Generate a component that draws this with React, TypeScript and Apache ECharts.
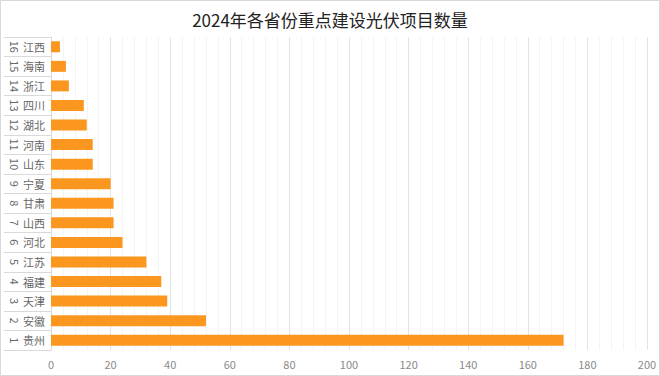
import React, { useEffect, useRef } from "react";
import * as echarts from "echarts";

const provinces = ["贵州", "安徽", "天津", "福建", "江苏", "河北", "山西", "甘肃", "宁夏", "山东", "河南", "湖北", "四川", "浙江", "海南", "江西"];
const ranks = ["1", "2", "3", "4", "5", "6", "7", "8", "9", "10", "11", "12", "13", "14", "15", "16"];
const projectCounts = [172, 52, 39, 37, 32, 24, 21, 21, 20, 14, 14, 12, 11, 6, 5, 3];
const xTicks = { min: 0, max: 200, interval: 20 };
const titleText = "2024年各省份重点建设光伏项目数量";

export default function App() {
  const ref = useRef<HTMLDivElement>(null);
  useEffect(() => {
    if (!ref.current) return;
    const chart = echarts.init(ref.current, null, { renderer: "svg" });
    const font = "'Noto Sans CJK SC', 'Noto Sans', sans-serif";
    chart.setOption({
      animation: false,
      backgroundColor: "#ffffff",
      textStyle: { fontFamily: font },
      title: {
        text: titleText,
        left: "center",
        top: 6,
        textStyle: { fontSize: 17, fontWeight: "normal", color: "#222", fontFamily: font },
      },
      graphic: [
        {
          type: "rect",
          shape: { x: 0.5, y: 0.5, width: 659, height: 375 },
          style: { fill: "none", stroke: "#d9d9d9", lineWidth: 1 },
          silent: true,
        },
      ],
      grid: { left: 51, right: 13, top: 37, bottom: 26, containLabel: false },
      xAxis: {
        type: "value",
        min: xTicks.min,
        max: xTicks.max,
        interval: xTicks.interval,
        axisLine: { show: false },
        axisTick: { show: false },
        axisLabel: { color: "#8a8a8a", fontSize: 11, margin: 8, fontFamily: font },
        splitLine: { show: true, lineStyle: { color: "#e3e3e3", width: 1 } },
        minorTick: { show: false, splitNumber: 5 },
        minorSplitLine: { show: true, lineStyle: { color: "#f4f4f4", width: 1 } },
      },
      yAxis: [
        {
          type: "category",
          data: provinces,
          position: "left",
          axisLine: { show: true, lineStyle: { color: "#d9d9d9" } },
          axisTick: { show: true, length: 47, lineStyle: { color: "#d9d9d9" } },
          axisLabel: { color: "#666", fontSize: 11, margin: 6, fontFamily: font },
        },
        {
          type: "category",
          data: ranks,
          position: "left",
          offset: 47,
          axisLine: { show: false },
          axisTick: { show: false },
          axisLabel: { inside: true, rotate: -90, color: "#666", fontSize: 11, margin: 6, fontFamily: font },
        },
      ],
      series: [
        {
          type: "bar",
          data: projectCounts,
          yAxisIndex: 0,
          barCategoryGap: "44%",
          itemStyle: { color: "#fb961f" },
        },
      ],
    });
    return () => chart.dispose();
  }, []);
  return (
    <div
      ref={ref}
      style={{ position: "fixed", left: 0, top: 0, width: 660, height: 376 }}
    />
  );
}
